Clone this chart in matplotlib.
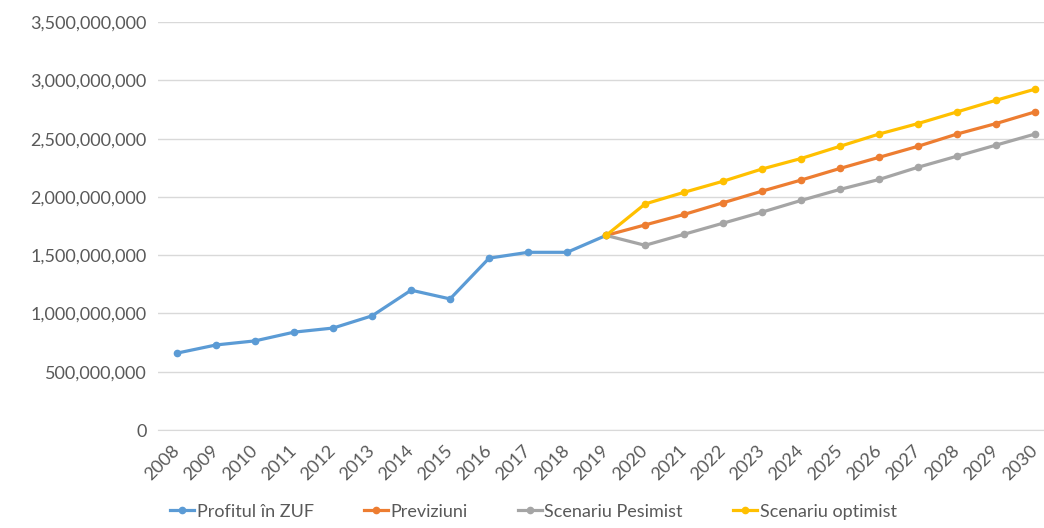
import matplotlib.pyplot as plt
from matplotlib.ticker import FuncFormatter
from matplotlib.transforms import ScaledTranslation

plt.rcParams['font.family'] = ['Lato', 'DejaVu Sans']

# date
years = [str(y) for y in range(2008, 2031)]
profit_years = years[:12]
profit = [0.66e9, 0.73e9, 0.765e9, 0.84e9, 0.875e9, 0.98e9,
          1.20e9, 1.125e9, 1.475e9, 1.525e9, 1.525e9, 1.67e9]

fc_years = years[11:]
previziuni = [1.67e9, 1.76e9, 1.85e9, 1.95e9, 2.05e9, 2.145e9, 2.245e9,
              2.34e9, 2.435e9, 2.54e9, 2.63e9, 2.73e9]
pesimist = [1.67e9, 1.585e9, 1.68e9, 1.775e9, 1.87e9, 1.97e9, 2.065e9,
            2.15e9, 2.255e9, 2.35e9, 2.445e9, 2.54e9]
optimist = [1.67e9, 1.94e9, 2.04e9, 2.135e9, 2.24e9, 2.33e9, 2.435e9,
            2.54e9, 2.63e9, 2.73e9, 2.83e9, 2.925e9]

x_all = list(range(len(years)))
x_fc = x_all[11:]

fig = plt.figure(figsize=(10.44, 5.28), dpi=100)
ax = fig.add_axes([0.151, 0.1856, 0.849, 0.7724])

kw = dict(marker='o', markersize=4.5, linewidth=2.3)
ax.plot(x_all[:12], profit, color='#5B9BD5', label='Profitul în ZUF', **kw)
ax.plot(x_fc, previziuni, color='#ED7D31', label='Previziuni', **kw)
ax.plot(x_fc, pesimist, color='#A5A5A5', label='Scenariu Pesimist', **kw)
ax.plot(x_fc, optimist, color='#FFC000', label='Scenariu optimist', **kw)

ax.set_xlim(-0.5, 22.23)
ax.set_ylim(0, 3.5e9)
ax.set_yticks([i * 0.5e9 for i in range(8)])
ax.yaxis.set_major_formatter(FuncFormatter(lambda v, p: f'{v:,.0f}'))
ax.set_xticks(x_all)
ax.set_xticklabels(years, rotation=45, ha='right', rotation_mode='anchor')

ax.grid(axis='y', color='#D9D9D9', linewidth=1)
ax.set_axisbelow(True)
for s in ['top', 'right', 'left']:
    ax.spines[s].set_visible(False)
ax.spines['bottom'].set_color('#D9D9D9')
ax.tick_params(axis='y', length=0, labelsize=13, colors='#595959', pad=8)
ax.tick_params(axis='x', length=0, labelsize=13, colors='#595959', pad=9)
shift = ScaledTranslation(-6 / 100, 0, fig.dpi_scale_trans)
for lbl in ax.get_xticklabels():
    lbl.set_transform(lbl.get_transform() + shift)

fig.legend(loc='lower center', ncol=4, bbox_to_anchor=(0.511, -0.015),
           frameon=False, fontsize=13, labelcolor='#595959',
           handlelength=1.3, handletextpad=0.15, columnspacing=2.8)

fig.savefig('out.png', dpi=100)
